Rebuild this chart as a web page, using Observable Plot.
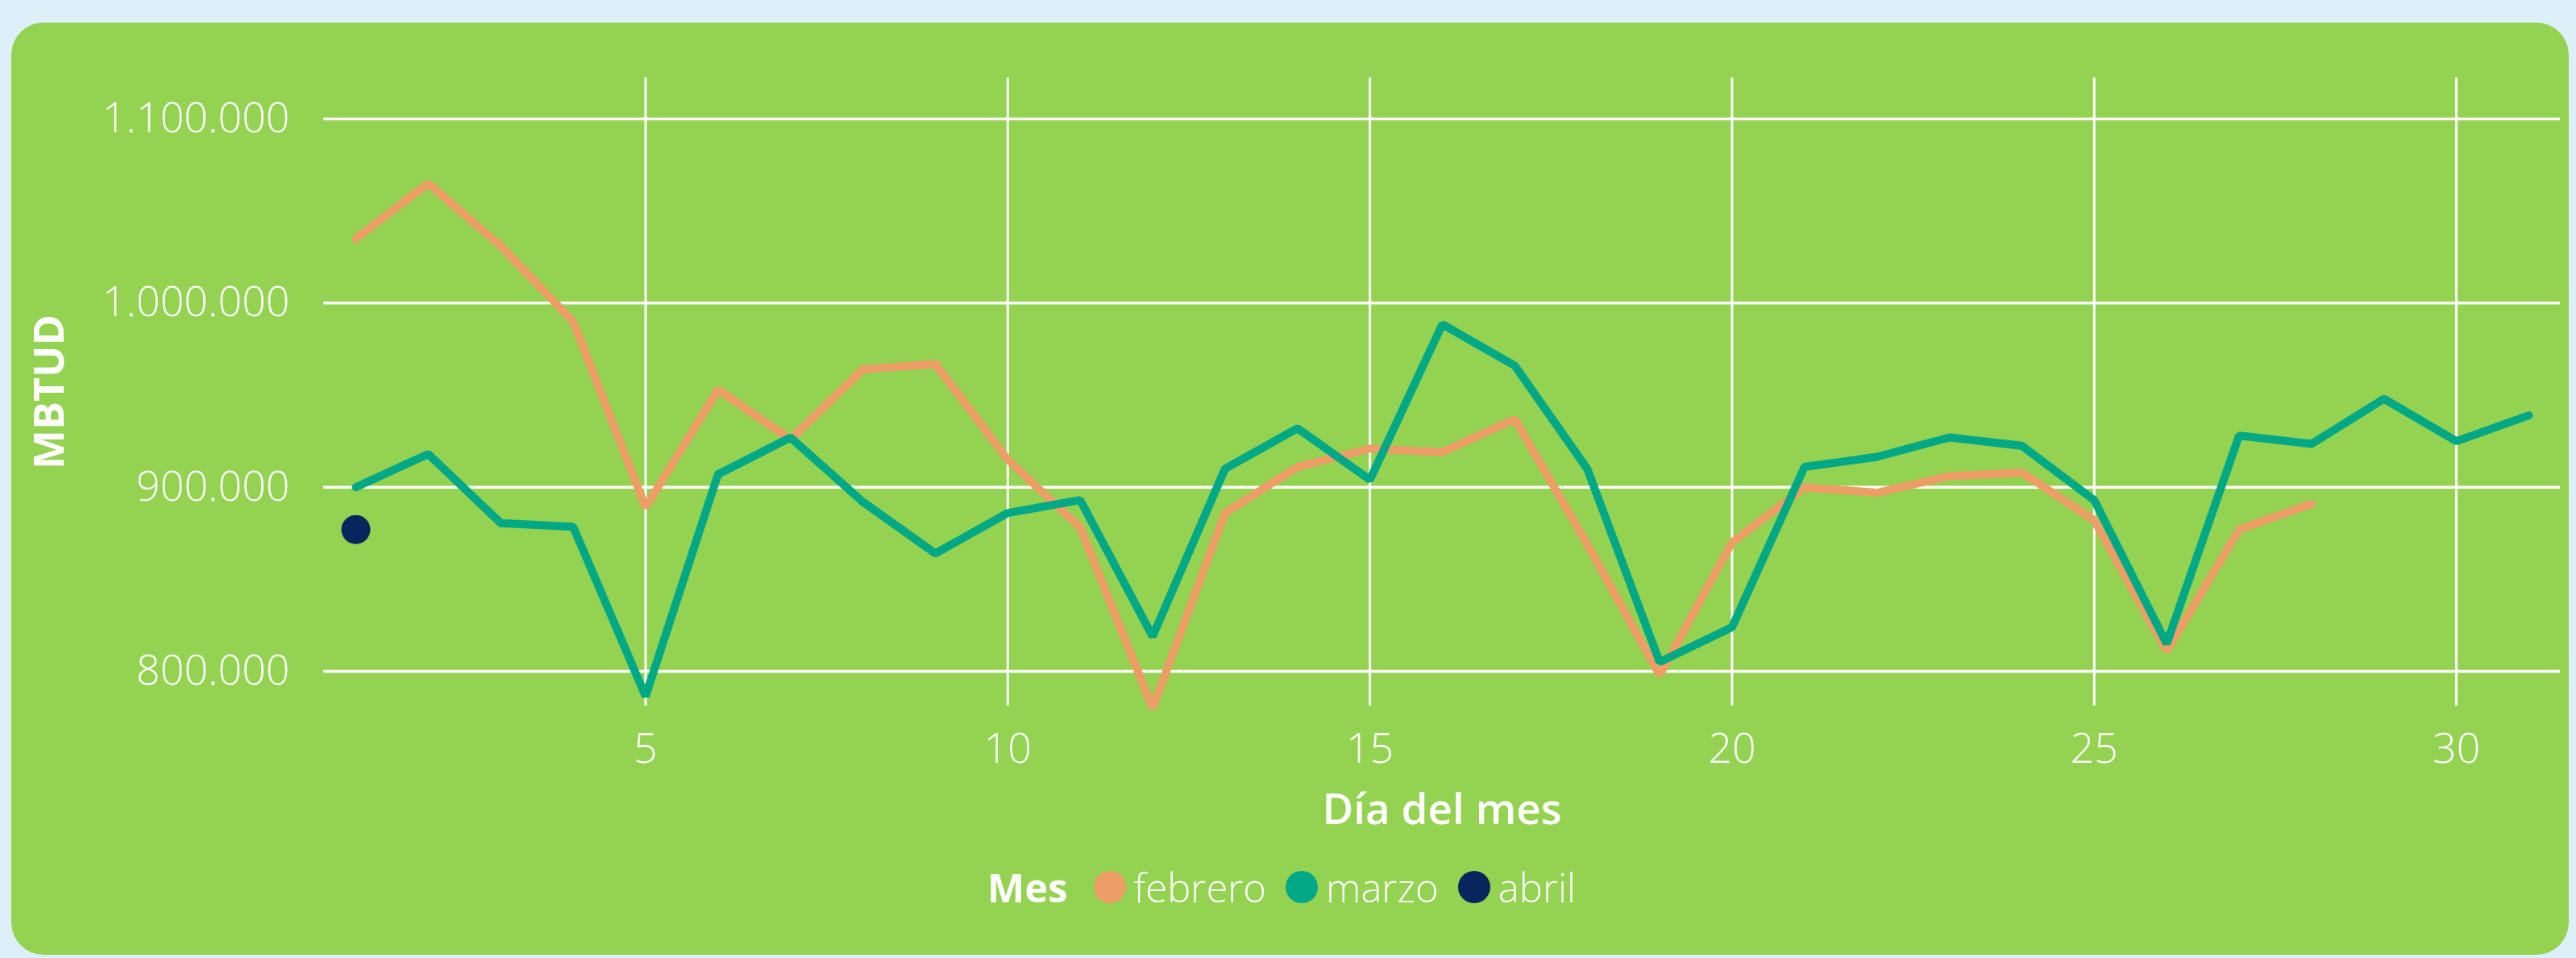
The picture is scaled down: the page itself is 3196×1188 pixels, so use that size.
<!DOCTYPE html>
<html>
<head>
<meta charset="utf-8">
<script src="https://cdn.jsdelivr.net/npm/d3@7"></script>
<script src="https://cdn.jsdelivr.net/npm/@observablehq/plot@0.6"></script>
<style>
  html, body { margin: 0; padding: 0; }
  body { width: 3196px; height: 1188px; background: #DEF0F7; position: relative; overflow: hidden; font-family: "Open Sans", sans-serif; }
  #panel { position: absolute; left: 14px; top: 28px; width: 3173px; height: 1156px; background: #94D252; border-radius: 40px; }
  #chart { position: absolute; left: 0; top: 0; }
  #legend { position: absolute; left: 1225px; top: 1070px; height: 60px; display: flex; align-items: center; color: white; font-size: 49px; font-weight: 300; white-space: nowrap; }
  #legend .title { font-weight: 700; margin-right: 32px; }
  #legend .sw { width: 40px; height: 40px; border-radius: 50%; display: inline-block; margin-right: 10px; }
  #legend .item { display: flex; align-items: center; margin-right: 24px; }
</style>
</head>
<body>
<div id="panel"></div>
<div id="chart"></div>
<div id="legend"></div>
<script>
// ---- data ----
const dias = [1,2,3,4,5,6,7,8,9,10,11,12,13,14,15,16,17,18,19,20,21,22,23,24,25,26,27,28,29,30,31];
const febrero = [1035000,1065000,1031000,990000,889000,953000,926000,964000,967000,915000,878000,780000,886000,911000,921000,919000,937000,869000,798000,870000,900000,897000,906000,908000,882000,811000,877000,891000];
const marzo = [900000,918000,880500,878500,786500,907000,927000,892000,864000,886000,893000,819000,910000,932000,904000,988500,966000,910000,805000,824000,911000,916500,927000,922500,893000,815000,928000,923500,948000,925000,939000];
const abril = [877000];
const meses = ["febrero", "marzo", "abril"];
const colores = ["#EC9E66", "#00A886", "#08255E"];
const xTicks = [5, 10, 15, 20, 25, 30];
const yTicks = [800000, 900000, 1000000, 1100000];
const xLabel = "Día del mes";
const yLabel = "MBTUD";
const legendTitle = "Mes";

// ---- build rows ----
const lineRows = [];
febrero.forEach((v, i) => lineRows.push({mes: "febrero", dia: dias[i], valor: v}));
marzo.forEach((v, i) => lineRows.push({mes: "marzo", dia: dias[i], valor: v}));
const abrilRows = abril.map((v, i) => ({mes: "abril", dia: dias[i], valor: v}));

const fmt = d3.formatLocale({decimal: ",", thousands: ".", grouping: [3], currency: ["", ""]}).format(",");

const chart = Plot.plot({
  width: 3196,
  height: 1040,
  marginLeft: 401,
  marginRight: 20,
  marginTop: 96,
  marginBottom: 165,
  style: {background: "transparent", color: "white", fontFamily: "'Open Sans', sans-serif", fontSize: "52px", fontWeight: 300, overflow: "visible"},
  x: {domain: [0.555, 31.434]},
  y: {domain: [781170, 1122340]},
  color: {domain: meses, range: colores},
  marks: [
    Plot.gridY(yTicks, {stroke: "white", strokeOpacity: 1, strokeWidth: 3.5}),
    Plot.gridX(xTicks, {stroke: "white", strokeOpacity: 1, strokeWidth: 3}),
    Plot.axisY(yTicks, {tickSize: 0, tickPadding: 42, tickFormat: fmt, label: null, fontSize: 52, fill: "white"}),
    Plot.axisX(xTicks, {tickSize: 0, tickPadding: 34, label: null, fontSize: 52, fill: "white"}),
    Plot.line(lineRows, {x: "dia", y: "valor", z: "mes", stroke: "mes", strokeWidth: 10, strokeLinecap: "round", strokeLinejoin: "miter"}),
    Plot.dot(abrilRows, {x: "dia", y: "valor", fill: "mes", r: 18}),
    Plot.text([xLabel], {text: d => d, frameAnchor: "bottom", dy: 146, fontSize: 53, fontWeight: 600, fill: "white"}),
    Plot.text([yLabel], {text: d => d, frameAnchor: "left", rotate: -90, dx: -339, dy: 96, fontSize: 52, fontWeight: 700, fill: "white", fontFamily: "'Open Sans', sans-serif"})
  ]
});
document.getElementById("chart").appendChild(chart);

// ---- legend ----
const legend = document.getElementById("legend");
const t = document.createElement("span");
t.className = "title";
t.textContent = legendTitle;
legend.appendChild(t);
meses.forEach((m, i) => {
  const item = document.createElement("span");
  item.className = "item";
  const sw = document.createElement("span");
  sw.className = "sw";
  sw.style.background = colores[i];
  const lab = document.createElement("span");
  lab.textContent = m;
  item.appendChild(sw);
  item.appendChild(lab);
  legend.appendChild(item);
});
</script>
</body>
</html>
